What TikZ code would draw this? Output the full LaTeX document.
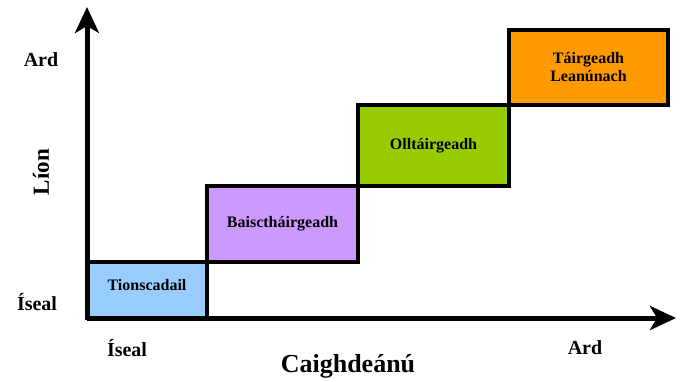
\documentclass[tikz,border=0pt]{standalone}
\usepackage{fontspec}
\setmainfont{Liberation Serif}
\definecolor{colorTionscadail}{HTML}{99CCFF}
\definecolor{colorBaisc}{HTML}{CC99FF}
\definecolor{colorOll}{HTML}{99CC00}
\definecolor{colorLeanunach}{HTML}{FF9900}
\usetikzlibrary{arrows.meta, positioning}
\tikzset{
  stagebox/.style={draw=black, line width=4pt, rectangle, inner sep=0pt, align=center, font=\fontsize{16}{18}\selectfont\bfseries},
  axislabel/.style={font=\fontsize{20}{22}\selectfont\bfseries, inner sep=0pt},
}

\begin{document}
\begin{tikzpicture}[x=1pt, y=-1pt, >={Stealth[length=26pt, width=24pt, inset=7pt]}]
\useasboundingbox (0,0) rectangle (682,381);
% stages
\node[stagebox, fill=colorTionscadail, minimum width=120pt, minimum height=56pt, text depth=10pt] (tionscadail) at (147,290) {Tionscadail};
\node[stagebox, fill=colorBaisc, minimum width=151pt, minimum height=76pt] (baisc) at (282.5,224) {Baiscth\'airgeadh};
\node[stagebox, fill=colorOll, minimum width=151pt, minimum height=81pt] (oll) at (433.5,145.5) {Ollt\'airgeadh};
\node[stagebox, fill=colorLeanunach, minimum width=159pt, minimum height=75pt] (leanunach) at (588.5,67.5) {T\'airgeadh\\Lean\'unach};
% axes
\coordinate (origin) at (87,318);
\coordinate (ytip) at (87,7);
\coordinate (xtip) at (676,318);
\draw[->, line width=5pt] (origin) -- (ytip);
\draw[->, line width=5pt] (origin) -- (xtip);
% labels
\node[axislabel] (yhigh) at (41,60) {Ard};
\node[axislabel] (ylow) at (37,302) {\'Iseal};
\node[axislabel, font=\fontsize{23}{25}\selectfont\bfseries, rotate=90] (yname) at (41,172) {L\'ion};
\node[axislabel] (xlow) at (127,348) {\'Iseal};
\node[axislabel] (xhigh) at (585,348) {Ard};
\node[font=\fontsize{26}{28}\selectfont\bfseries, inner sep=0pt] (xname) at (348,366) {Caighde\'an\'u};
\end{tikzpicture}
\end{document}
